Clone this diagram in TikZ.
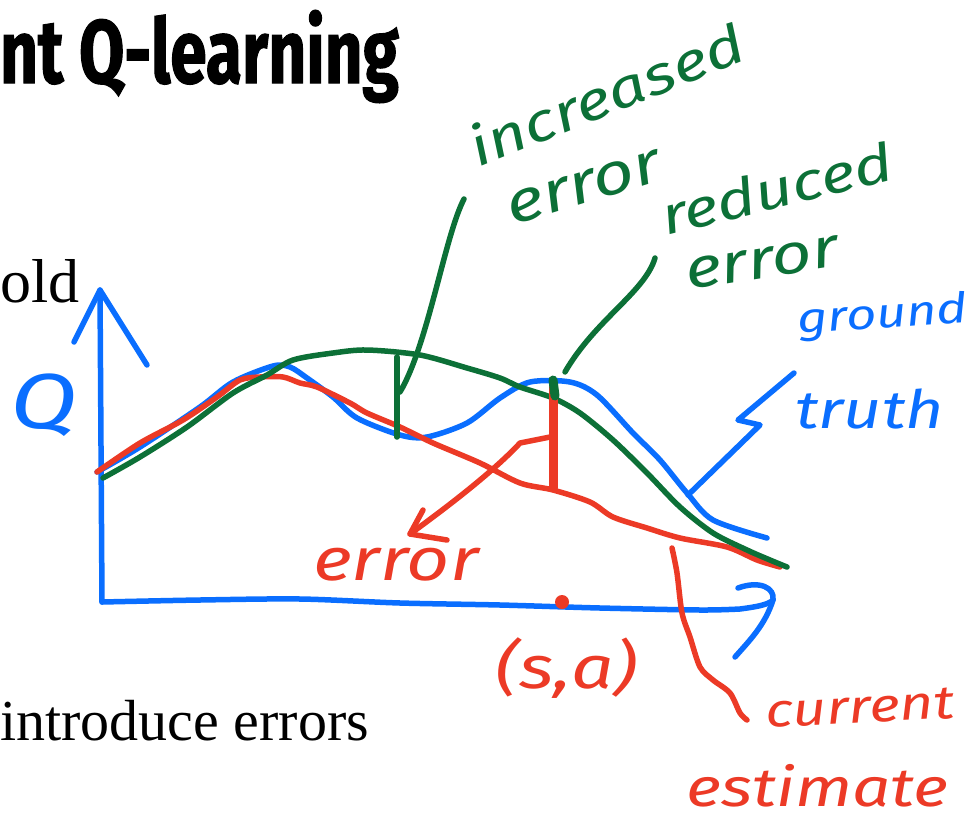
\documentclass[tikz,border=0pt]{standalone}
\usepackage{fontspec}
\setmainfont{Liberation Serif}
\newfontfamily\titlefont{Fira Sans}[FakeStretch=0.73, FakeBold=1.2]
\newfontfamily\handfont{Fira Sans}[FakeStretch=1.25]
\usetikzlibrary{calc}
\definecolor{penblue}{RGB}{10,110,255}
\definecolor{pengreen}{RGB}{12,112,55}
\definecolor{penred}{RGB}{236,58,38}

\begin{document}
\begin{tikzpicture}[x=1pt, y=-1pt, every node/.style={inner sep=0pt, anchor=base west},
    pen/.style={line width=5.5pt, line cap=round, line join=round},
    hand/.style={font=\handfont\itshape\fontsize{#1}{#1}\selectfont}]
    \useasboundingbox (0,0) rectangle (977,822);
    \clip (0,0) rectangle (977,822);
    \node[font=\titlefont\bfseries\fontsize{90}{90}\selectfont] (title) at (0,83) {nt Q-learning};
    \node[font=\fontsize{62}{62}\selectfont] (old) at (0,302) {old};
    \node[font=\fontsize{58}{58}\selectfont] (intro) at (0,740) {introduce errors};
    \coordinate (o) at (102,602);
    \coordinate (ytip) at (100,290);
    \coordinate (xtip) at (773,600);
    \draw[pen, penblue] (o) -- (ytip);
    \draw[pen, penblue] (74,342) -- (ytip) -- (147,365);
    \draw[pen, penblue] plot[smooth] coordinates {(102,602) (200,600) (300,599) (400,603) (500,605) (600,608) (700,610) (740,609)} .. controls (755,607) and (768,605) .. (xtip);
    \draw[pen, penblue] (738,588) .. controls (760,580) and (775,588) .. (xtip) .. controls (765,625) and (750,640) .. (735,657);
    \node[hand=78, penblue] (q) at (10,428) {Q};
    \draw[pen, penblue] plot[smooth] coordinates {(97,472) (140,447) (200,407) (233,382) (273,366) (290,367) (307,378) (333,397) (357,418) (400,435) (427,437) (467,423) (500,398) (530,382) (570,382) (597,395) (633,433) (660,460) (687,493) (713,520) (767,538)};
    \draw[pen, penred] plot[smooth] coordinates {(97,472) (140,443) (183,420) (217,397) (240,380) (260,377) (283,377) (300,383) (317,387) (350,403) (367,413) (400,427) (433,443) (480,463) (520,483) (553,490) (590,502) (613,517) (647,528) (680,538) (727,547) (757,560) (780,567)};
    \draw[pen, pengreen] plot[smooth] coordinates {(103,478) (140,457) (187,427) (233,393) (267,375) (293,360) (333,353) (367,350) (420,355) (467,368) (500,378) (520,387) (553,398) (580,413) (613,440) (647,473) (680,507) (713,533) (747,550) (770,560) (787,567)};
    \draw[pen, pengreen] (397,357) -- (397,437);
    \draw[pen, penred, line width=9pt] (553,387) -- (553,488);
    \draw[pen, pengreen, line width=9pt] (553,380) -- (555,396);
    \node[circle, fill=penred, minimum size=14pt, anchor=center] (sa) at (562,602) {};
    \node[hand=60, penred] (salabel) at (495,688) {(s,a)};
    \coordinate (incfoot) at (400,392);
    \coordinate (inctop) at (464,199);
    \draw[pen, pengreen] (incfoot) .. controls (428,345) and (445,235) .. (inctop);
    \node[hand=54, pengreen, rotate=22] (increased) at (478,168) {increased};
    \node[hand=58, pengreen, rotate=17] (incerror) at (512,226) {error};
    \coordinate (redfoot) at (565,372);
    \coordinate (redtop) at (655,258);
    \draw[pen, pengreen] (redfoot) .. controls (595,320) and (645,292) .. (redtop);
    \node[hand=53, pengreen, rotate=14] (reduced) at (666,236) {reduced};
    \node[hand=56, pengreen, rotate=9] (rederror) at (688,290) {error};
    \coordinate (errbar) at (550,437);
    \coordinate (errtip) at (410,534);
    \draw[pen, penred] (errbar) -- (520,443) .. controls (495,470) and (450,505) .. (errtip);
    \draw[pen, penred] (423,510) -- (errtip) -- (447,540);
    \node[hand=60, penred] (error) at (313,580) {error};
    \coordinate (gtfoot) at (688,495);
    \coordinate (gttop) at (794,373);
    \draw[pen, penblue] (gtfoot) -- (760,425) -- (738,420) -- (gttop);
    \node[hand=42, penblue, rotate=4] (ground) at (798,334) {ground};
    \node[hand=53, penblue] (truth) at (795,428) {truth};
    \coordinate (curfoot) at (672,548);
    \coordinate (curend) at (747,720);
    \draw[pen, penred] plot[smooth] coordinates {(curfoot) (677,573) (682,613) (690,637) (700,667) (713,680) (730,693) (740,713) (curend)};
    \node[hand=47, penred, rotate=3] (current) at (766,728) {current};
    \node[hand=54, penred] (estimate) at (686,806) {estimate};
\end{tikzpicture}
\end{document}
